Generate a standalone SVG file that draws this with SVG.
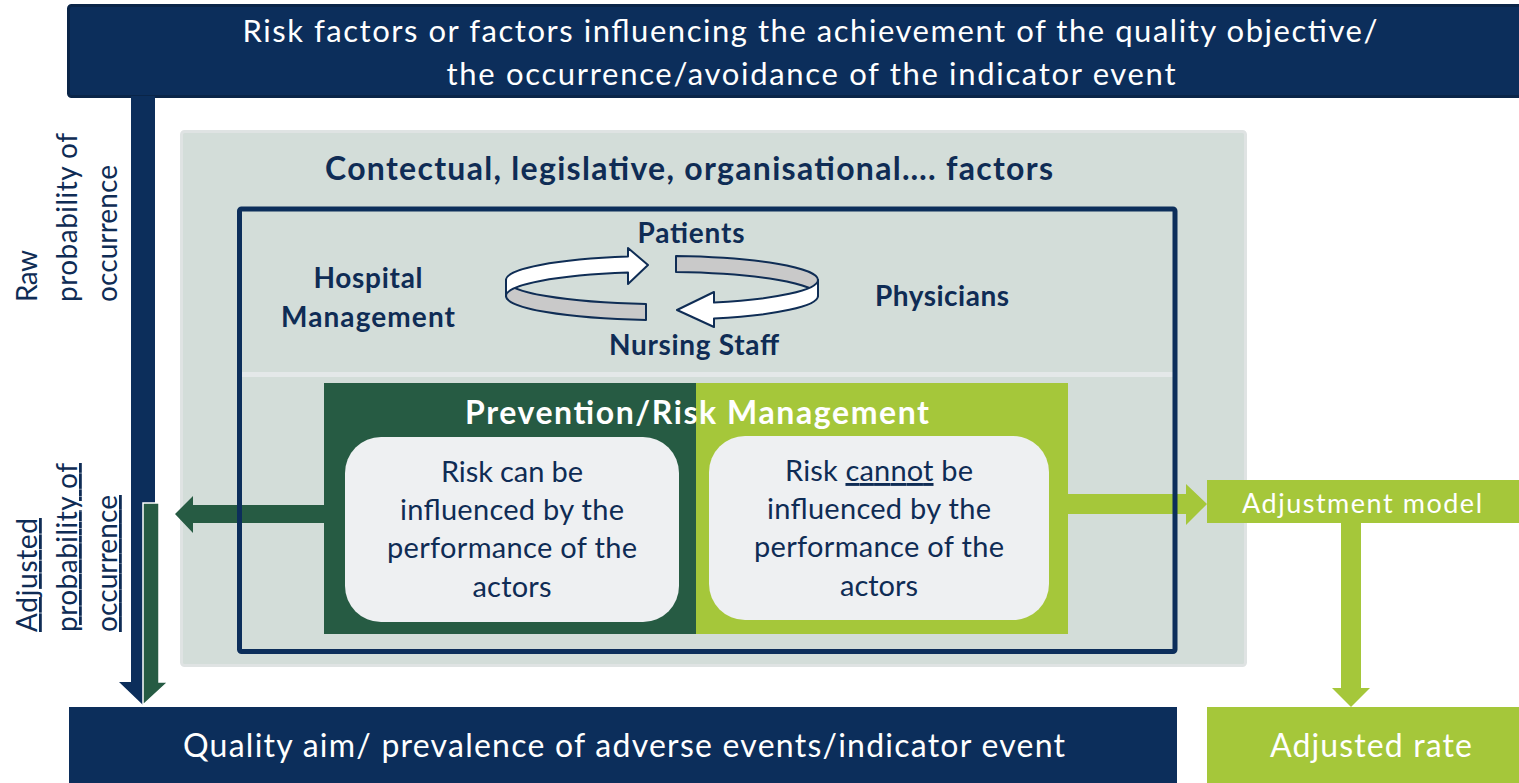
<svg xmlns="http://www.w3.org/2000/svg" width="1519" height="783" viewBox="0 0 1519 783">
  <style>
    .t { font-family: Lato, "Open Sans", "Liberation Sans", sans-serif; }
    .w { fill: #ffffff; }
    .n { fill: #0f2c55; }
    .b { font-weight: bold; }
    .box { fill: #eef0f2; }
    .ring { stroke: #0f2d55; stroke-width: 2; stroke-linejoin: round; }
  </style>

  <rect width="1519" height="783" fill="#ffffff"/>

  <!-- top banner -->
  <g id="banner-top">
    <rect x="68.5" y="5.5" width="1460" height="91" rx="3" fill="#0c2e5b" stroke="#0a2548" stroke-width="3"/>
    <text class="t w" x="810" y="42" font-size="31" text-anchor="middle" textLength="1135">Risk factors or factors influencing the achievement of the quality objective/</text>
    <text class="t w" x="811" y="85" font-size="31" text-anchor="middle" textLength="729">the occurrence/avoidance of the indicator event</text>
  </g>

  <!-- vertical flow arrows on the left -->
  <g id="connectors">
    <polygon points="131,96 155,96 155,682 167,682 143,705 119,682 131,682" fill="#0c2e5b"/>
    <polygon points="143,503 159,503 159,682 168,682 143,705" fill="#265b43" stroke="#ffffff" stroke-width="1.5"/>
  </g>

  <!-- side labels -->
  <g id="label-raw" class="t n" font-size="28">
    <text transform="translate(37,302) rotate(-90)" textLength="52">Raw</text>
    <text transform="translate(77,302) rotate(-90)" textLength="169">probability of</text>
    <text transform="translate(117,302) rotate(-90)" textLength="137">occurrence</text>
  </g>
  <g id="label-adjusted" class="t n" font-size="28" text-decoration="underline">
    <text transform="translate(37,632) rotate(-90)" textLength="114">Adjusted</text>
    <text transform="translate(77,632) rotate(-90)" textLength="169">probability of</text>
    <text transform="translate(117,632) rotate(-90)" textLength="137">occurrence</text>
  </g>

  <!-- context panel -->
  <g id="context-panel">
    <rect x="181.5" y="131.5" width="1064" height="534" rx="3" fill="#d3ddd9" stroke="#dfe3e3" stroke-width="3"/>
    <text class="t n b" x="689" y="180" font-size="32" text-anchor="middle" textLength="728">Contectual, legislative, organisational…. factors</text>
    <rect x="242" y="372" width="931" height="5" fill="#e4e8e9"/>
  </g>

  <!-- actors and their interaction cycle -->
  <g id="actors">
    <text class="t n b" x="691" y="243" font-size="28" text-anchor="middle" textLength="107">Patients</text>
    <text class="t n b" x="368" y="288" font-size="28" text-anchor="middle" textLength="109">Hospital</text>
    <text class="t n b" x="368" y="327" font-size="28" text-anchor="middle" textLength="174">Management</text>
    <text class="t n b" x="942" y="306" font-size="28" text-anchor="middle" textLength="134">Physicians</text>
    <text class="t n b" x="694" y="355" font-size="28" text-anchor="middle" textLength="170">Nursing Staff</text>
  </g>
  <g id="cycle">
    <path class="ring" fill="#c9c9c9" d="M506,280 A156,24 0 0 0 646,303.9 L646,319.9 A156,24 0 0 1 506,296 Z"/>
    <path class="ring" fill="#c9c9c9" d="M676,256.1 A156,24 0 0 1 818,280 L818,296 A156,24 0 0 0 676,272.1 Z"/>
    <path class="ring" fill="#ffffff" d="M628,256.6 L628,248 L648,265 L628,284 L628,272.6 A156,24 0 0 0 506,296 L506,280 A156,24 0 0 1 628,256.6 Z"/>
    <path class="ring" fill="#ffffff" d="M714,302.6 L714,292 L677,310 L714,327 L714,318.6 A156,24 0 0 0 818,296 L818,280 A156,24 0 0 1 714,302.6 Z"/>
  </g>

  <!-- prevention / risk management block -->
  <g id="prevention">
    <rect x="324" y="383" width="372" height="251" fill="#265b43"/>
    <rect x="696" y="383" width="372" height="251" fill="#a5c73a"/>
    <text class="t w b" x="697" y="424" font-size="32" text-anchor="middle" textLength="464">Prevention/Risk Management</text>
  </g>

  <g id="risk-influenceable">
    <rect class="box" x="345" y="437" width="334" height="185" rx="36"/>
    <g class="t n" font-size="29" text-anchor="middle">
      <text x="512" y="482" textLength="142">Risk can be</text>
      <text x="512" y="520" textLength="224">influenced by the</text>
      <text x="512" y="558" textLength="250">performance of the</text>
      <text x="512" y="597" textLength="79">actors</text>
    </g>
  </g>

  <g id="risk-not-influenceable">
    <rect class="box" x="709" y="436" width="340" height="184" rx="36"/>
    <g class="t n" font-size="29" text-anchor="middle">
      <text x="879" y="481" textLength="188">Risk <tspan text-decoration="underline">cannot</tspan> be</text>
      <text x="879" y="519" textLength="224">influenced by the</text>
      <text x="879" y="557" textLength="250">performance of the</text>
      <text x="879" y="596" textLength="78">actors</text>
    </g>
  </g>

  <!-- horizontal arrows leaving the prevention block -->
  <g id="connectors-h">
    <polygon points="324,505 193,505 193,496 175,514 193,533 193,523 324,523" fill="#265b43"/>
    <polygon points="1068,494 1186,494 1186,484 1207,504 1186,525 1186,514 1068,514" fill="#a5c73a"/>
  </g>

  <!-- inner frame around actors and prevention -->
  <rect id="inner-frame" x="239.5" y="209" width="935.5" height="442.5" rx="2" fill="none" stroke="#0c2e5b" stroke-width="5"/>

  <!-- adjustment path -->
  <g id="adjustment-model">
    <rect x="1207" y="480" width="312" height="43" fill="#a5c73a"/>
    <text class="t w" x="1362" y="513" font-size="27" text-anchor="middle" textLength="240">Adjustment model</text>
  </g>
  <g id="connectors-adj">
    <polygon points="1341,523 1361,523 1361,688 1370,688 1351,707 1332,688 1341,688" fill="#a5c73a"/>
  </g>
  <g id="adjusted-rate">
    <rect x="1207" y="707" width="312" height="76" fill="#a5c73a"/>
    <text class="t w" x="1371" y="757" font-size="32" text-anchor="middle" textLength="202">Adjusted rate</text>
  </g>

  <!-- outcome bar -->
  <g id="outcome">
    <rect x="69" y="707" width="1108" height="76" fill="#0c2e5b"/>
    <text class="t w" x="624" y="757" font-size="32" text-anchor="middle" textLength="882">Quality aim/ prevalence of adverse events/indicator event</text>
  </g>
</svg>
